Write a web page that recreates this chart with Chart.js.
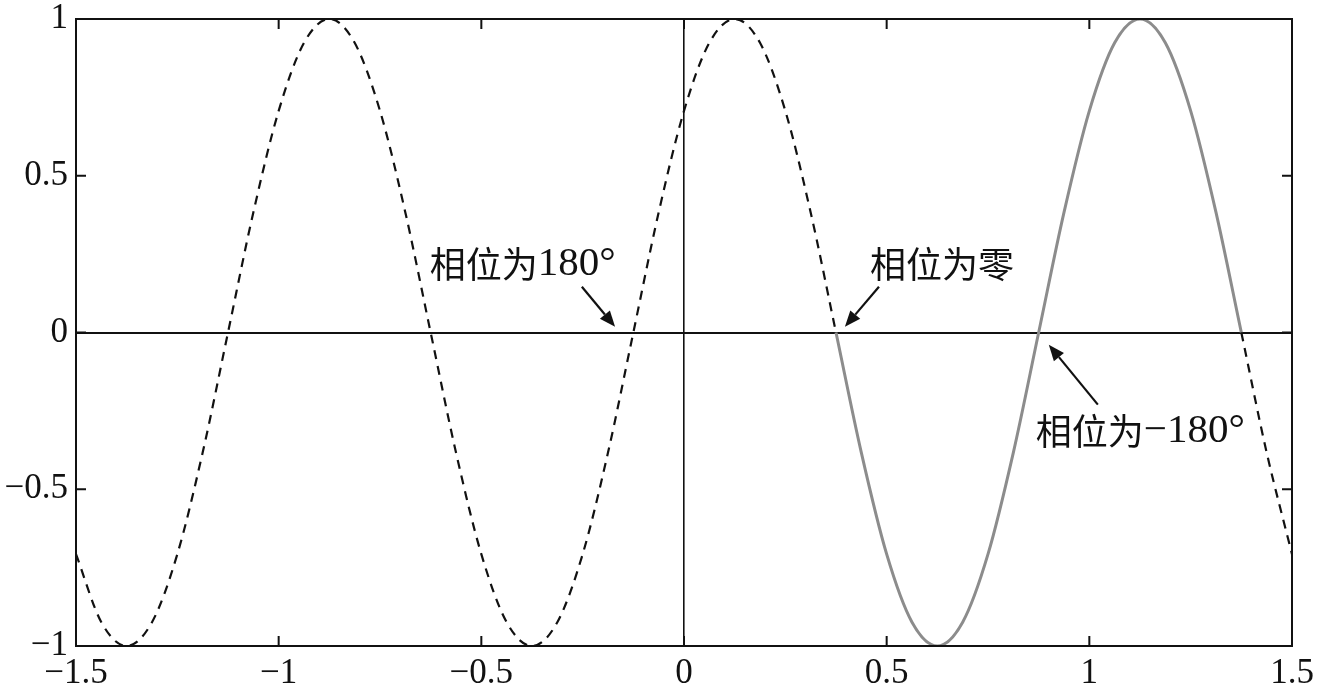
<!DOCTYPE html>
<html lang="zh">
<head>
    <meta charset="UTF-8">
    <title>相位</title>
    <script src="https://cdn.jsdelivr.net/npm/chart.js"></script>
    <style>
        html, body { margin: 0; padding: 0; background: #fff; }
        #wrap { width: 1319px; height: 692px; position: relative; }
    </style>
</head>
<body>
    <div id="wrap"><canvas id="phaseChart"></canvas></div>

    <script>
        // curve samples
        const xValues = [-1.5, -1.4375, -1.375, -1.3125, -1.25, -1.1875, -1.125, -1.0625,
            -1, -0.9375, -0.875, -0.8125, -0.75, -0.6875, -0.625, -0.5625,
            -0.5, -0.4375, -0.375, -0.3125, -0.25, -0.1875, -0.125, -0.0625,
            0, 0.0625, 0.125, 0.1875, 0.25, 0.3125, 0.375, 0.4375,
            0.5, 0.5625, 0.625, 0.6875, 0.75, 0.8125, 0.875, 0.9375,
            1, 1.0625, 1.125, 1.1875, 1.25, 1.3125, 1.375, 1.4375, 1.5];
        const yValues = [-0.707, -0.924, -1, -0.924, -0.707, -0.383, 0, 0.383,
            0.707, 0.924, 1, 0.924, 0.707, 0.383, 0, -0.383,
            -0.707, -0.924, -1, -0.924, -0.707, -0.383, 0, 0.383,
            0.707, 0.924, 1, 0.924, 0.707, 0.383, 0, -0.383,
            -0.707, -0.924, -1, -0.924, -0.707, -0.383, 0, 0.383,
            0.707, 0.924, 1, 0.924, 0.707, 0.383, 0, -0.383, -0.707];
        // the one period drawn solid grey
        const solidFrom = 0.375;
        const solidTo = 1.375;

        const xTicks = [-1.5, -1, -0.5, 0, 0.5, 1, 1.5];
        const yTicks = [-1, -0.5, 0, 0.5, 1];

        const noteTexts = ['相位为180°', '相位为零', '相位为−180°'];
        const notePos = [[-0.627, 0.219], [0.459, 0.216], [0.868, -0.316]];
        const arrowFrom = [[-0.252, 0.146], [0.481, 0.146], [1.021, -0.230]];
        const arrowTo = [[-0.170, 0.018], [0.397, 0.018], [0.900, -0.039]];

        const points = xValues.map((x, i) => ({ x: x, y: yValues[i] }));

        const tickFont = { family: '"Liberation Serif", "Times New Roman", Times, serif', size: 35 };
        const cjkFont = '36px "Noto Sans CJK SC", sans-serif';
        const latinFont = '41px "Liberation Serif", serif';

        function isSolid(ctx) {
            const x0 = xValues[ctx.p0DataIndex];
            return x0 >= solidFrom && x0 < solidTo;
        }

        function minusSign(v) {
            return String(v).replace('-', '\u2212');
        }

        // write a label, Chinese runs in the CJK face and the rest in the serif face
        function mixedText(c, text, x, y) {
            const runs = text.match(/[\u4e00-\u9fff]+|[^\u4e00-\u9fff]+/g);
            runs.forEach(r => {
                c.font = /[\u4e00-\u9fff]/.test(r) ? cjkFont : latinFont;
                c.fillText(r, x, y);
                x += c.measureText(r).width;
            });
        }

        // box, inward ticks and the arrows with their labels
        const framePlugin = {
            id: 'framePlugin',
            afterDraw(chart) {
                const c = chart.ctx;
                const a = chart.chartArea;
                const xs = chart.scales.x, ys = chart.scales.y;
                c.save();
                c.strokeStyle = '#111';
                c.lineWidth = 2;
                c.strokeRect(a.left, a.top, a.right - a.left, a.bottom - a.top);
                c.beginPath();
                xTicks.forEach(v => {
                    const px = xs.getPixelForValue(v);
                    c.moveTo(px, a.bottom); c.lineTo(px, a.bottom - 10);
                    c.moveTo(px, a.top); c.lineTo(px, a.top + 10);
                });
                yTicks.forEach(v => {
                    const py = ys.getPixelForValue(v);
                    c.moveTo(a.left, py); c.lineTo(a.left + 10, py);
                    c.moveTo(a.right, py); c.lineTo(a.right - 10, py);
                });
                c.stroke();

                c.fillStyle = '#111';
                c.textBaseline = 'middle';
                c.textAlign = 'left';
                noteTexts.forEach((t, i) => {
                    mixedText(c, t, xs.getPixelForValue(notePos[i][0]), ys.getPixelForValue(notePos[i][1]));
                    const x1 = xs.getPixelForValue(arrowFrom[i][0]), y1 = ys.getPixelForValue(arrowFrom[i][1]);
                    const x2 = xs.getPixelForValue(arrowTo[i][0]), y2 = ys.getPixelForValue(arrowTo[i][1]);
                    const ang = Math.atan2(y2 - y1, x2 - x1);
                    const head = 16, half = 6.5;
                    const bx = x2 - head * Math.cos(ang), by = y2 - head * Math.sin(ang);
                    c.lineWidth = 2.2;
                    c.beginPath();
                    c.moveTo(x1, y1); c.lineTo(bx, by);
                    c.stroke();
                    c.beginPath();
                    c.moveTo(x2, y2);
                    c.lineTo(bx + half * Math.sin(ang), by - half * Math.cos(ang));
                    c.lineTo(bx - half * Math.sin(ang), by + half * Math.cos(ang));
                    c.closePath();
                    c.fill();
                });
                c.restore();
            }
        };

        const ctx = document.getElementById('phaseChart').getContext('2d');
        const phaseChart = new Chart(ctx, {
            type: 'line',
            data: {
                datasets: [{
                    data: points,
                    borderColor: '#111',
                    borderWidth: 2.2,
                    borderDash: [9, 7],
                    pointRadius: 0,
                    cubicInterpolationMode: 'monotone',
                    segment: {
                        borderColor: c => isSolid(c) ? '#8c8c8c' : '#111',
                        borderDash: c => isSolid(c) ? [] : [9, 7],
                        borderWidth: c => isSolid(c) ? 3 : 2.2
                    }
                }]
            },
            plugins: [framePlugin],
            options: {
                responsive: true,
                maintainAspectRatio: false,
                animation: false,
                layout: { padding: { top: 19, right: 27, left: 0, bottom: 0 } },
                plugins: { legend: { display: false }, tooltip: { enabled: false } },
                scales: {
                    x: {
                        type: 'linear',
                        min: -1.5,
                        max: 1.5,
                        afterBuildTicks: s => { s.ticks = xTicks.map(v => ({ value: v })); },
                        afterFit: s => { s.height = 46; s.paddingLeft = 0; s.paddingRight = 0; },
                        border: { display: false },
                        grid: {
                            drawTicks: false,
                            color: c => c.tick && c.tick.value === 0 ? '#111' : 'rgba(0,0,0,0)',
                            lineWidth: 1.6
                        },
                        ticks: {
                            color: '#111',
                            font: tickFont,
                            padding: 7,
                            maxRotation: 0,
                            callback: v => minusSign(v)
                        }
                    },
                    y: {
                        type: 'linear',
                        min: -1,
                        max: 1,
                        afterBuildTicks: s => { s.ticks = yTicks.map(v => ({ value: v })); },
                        afterFit: s => { s.width = 76; s.paddingTop = 0; s.paddingBottom = 0; },
                        border: { display: false },
                        grid: {
                            drawTicks: false,
                            color: c => c.tick && c.tick.value === 0 ? '#111' : 'rgba(0,0,0,0)',
                            lineWidth: 2
                        },
                        ticks: {
                            color: '#111',
                            font: tickFont,
                            padding: 8,
                            callback: v => minusSign(v)
                        }
                    }
                }
            }
        });
    </script>
</body>
</html>
